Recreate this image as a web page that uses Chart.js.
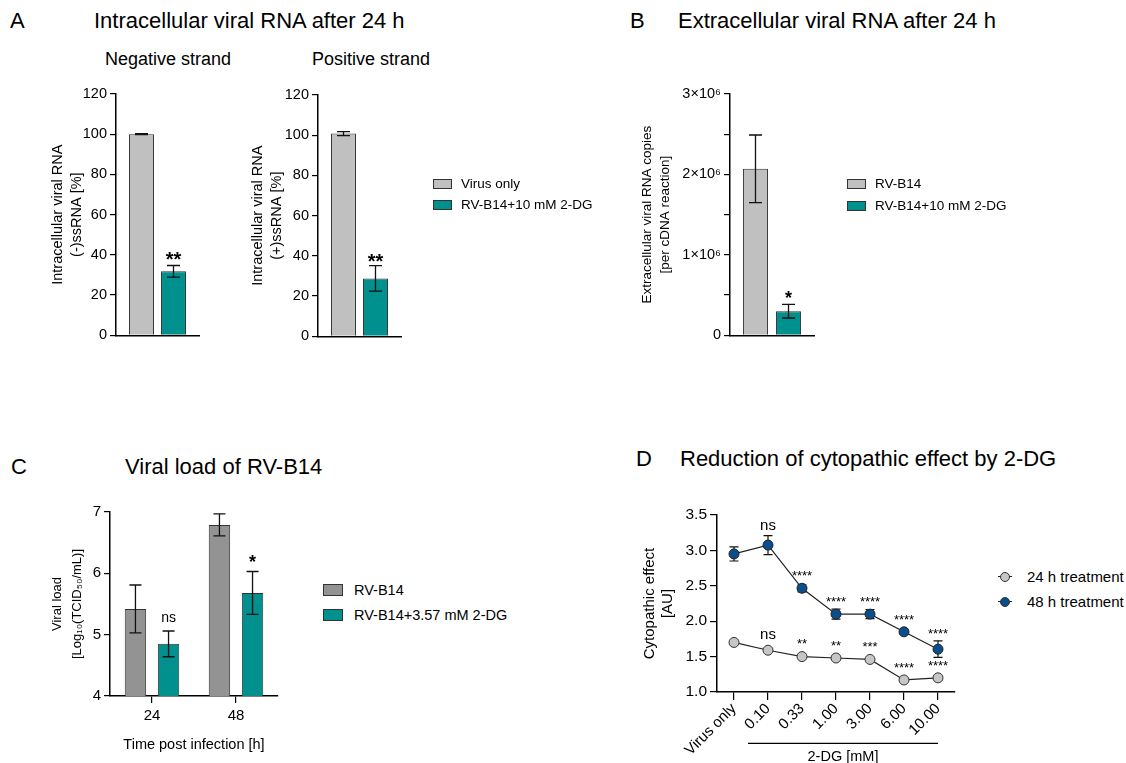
<!DOCTYPE html>
<html>
<head>
<meta charset="utf-8">
<title>2-DG and RV-B14</title>
<script src="https://cdn.jsdelivr.net/npm/chart.js@4.4.1/dist/chart.umd.min.js"></script>
<style>
  body { margin: 0; background: #fff; }
  #page { position: relative; width: 1126px; height: 763px; overflow: hidden;
          font-family: 'Liberation Sans', Arial, sans-serif; color: #000; }
  .t { position: absolute; white-space: nowrap; line-height: 1; }
  canvas { position: absolute; }
  .sw { position: absolute; border: 1px solid #333; box-sizing: border-box; }
</style>
</head>
<body>
<div id="page">
  <div class="t" style="left:10px;top:10px;font-size:22px">A</div>
  <div class="t" style="left:94px;top:10px;font-size:22px">Intracellular viral RNA after 24 h</div>
  <div class="t" style="left:105px;top:50px;font-size:18px">Negative strand</div>
  <div class="t" style="left:312px;top:50px;font-size:18px">Positive strand</div>
  <div class="t" style="left:630px;top:10px;font-size:22px">B</div>
  <div class="t" style="left:678px;top:10px;font-size:22px">Extracellular viral RNA after 24 h</div>
  <div class="t" style="left:11px;top:456px;font-size:22px">C</div>
  <div class="t" style="left:125px;top:456px;font-size:22px">Viral load of RV-B14</div>
  <div class="t" style="left:636px;top:448px;font-size:22px">D</div>
  <div class="t" style="left:680px;top:448px;font-size:22px">Reduction of cytopathic effect by 2-DG</div>

  <canvas id="negStrand" width="180" height="267" style="left:30px;top:80px"></canvas>
  <canvas id="posStrand" width="180" height="267" style="left:232px;top:81px"></canvas>
  <canvas id="extra" width="210" height="267" style="left:620px;top:80px"></canvas>
  <canvas id="load" width="250" height="268" style="left:40px;top:495px"></canvas>
  <canvas id="cpe" width="350" height="268" style="left:620px;top:495px"></canvas>
</div>

<script>
// ---------- data ----------
// A: intracellular RNA, % of virus only
const aLegend = ['Virus only', 'RV-B14+10 mM 2-DG'];
const negValues = [100, 31.8];
const negErrors = [0.25, 2.9];
const negSig = ['', '**'];
const posValues = [100.8, 28.8];
const posErrors = [1.0, 6.3];
const posSig = ['', '**'];
const aTicks = [0, 20, 40, 60, 80, 100, 120];
const aTickLabels = ['0', '20', '40', '60', '80', '100', '120'];

// B: extracellular RNA copies
const bLegend = ['RV-B14', 'RV-B14+10 mM 2-DG'];
const bValues = [2070000, 300000];
const bErrors = [420000, 85000];
const bSig = ['', '*'];
const bTicks = [0, 500000, 1000000, 1500000, 2000000, 2500000, 3000000];
const bTickLabels = ['0', '', '1×10⁶', '', '2×10⁶', '', '3×10⁶'];

// C: viral load
const cLabels = ['24', '48'];
const cLegend = ['RV-B14', 'RV-B14+3.57 mM 2-DG'];
const cVirus = [5.42, 6.79];
const cVirusErr = [0.39, 0.18];
const cDrug = [4.85, 5.68];
const cDrugErr = [0.21, 0.35];
const cSig = ['ns', '*'];
const cTicks = [4, 5, 6, 7];
const cTickLabels = ['4', '5', '6', '7'];

// D: cytopathic effect
const dLabels = ['Virus only', '0.10', '0.33', '1.00', '3.00', '6.00', '10.00'];
const dLegend = ['24 h treatment', '48 h treatment'];
const d24 = [1.70, 1.59, 1.50, 1.48, 1.46, 1.17, 1.20];
const d24Err = [0.02, 0.02, 0.02, 0.02, 0.02, 0.02, 0.02];
const d24Sig = ['', 'ns', '**', '**', '***', '****', '****'];
const d48 = [2.95, 3.075, 2.465, 2.10, 2.10, 1.85, 1.605];
const d48Err = [0.10, 0.135, 0.05, 0.07, 0.065, 0.03, 0.117];
const d48Sig = ['', 'ns', '****', '****', '****', '****', '****'];
const dTicks = [1.0, 1.5, 2.0, 2.5, 3.0, 3.5];
const dTickLabels = ['1.0', '1.5', '2.0', '2.5', '3.0', '3.5'];

// ---------- colours ----------
const lightGray = '#c0c0c0';
const teal = '#00908d';
const midGray = '#939393';
const navy = '#0a4e8e';
const dotGray = '#c6c6c6';

const FONT = "'Liberation Sans', Arial, sans-serif";
Chart.defaults.font.family = FONT;
Chart.defaults.color = '#000';

// ---------- plugins ----------
function drawErrors(chart, o) {
  const ctx = chart.ctx, y = chart.scales.y;
  chart.data.datasets.forEach((ds, di) => {
    if (!ds.errors) return;
    chart.getDatasetMeta(di).data.forEach((el, i) => {
      const v = ds.data[i], e = ds.errors[i];
      const top = y.getPixelForValue(v + e), bot = y.getPixelForValue(v - e);
      ctx.save();
      ctx.strokeStyle = '#111';
      ctx.lineWidth = o.width || 1.2;
      ctx.beginPath();
      ctx.moveTo(el.x, top); ctx.lineTo(el.x, bot);
      ctx.moveTo(el.x - o.cap, top); ctx.lineTo(el.x + o.cap, top);
      ctx.moveTo(el.x - o.cap, bot); ctx.lineTo(el.x + o.cap, bot);
      ctx.stroke();
      ctx.restore();
    });
  });
}

const errorBars = {
  id: 'errorBars',
  beforeDatasetsDraw(chart, args, o) { if (o.behind) drawErrors(chart, o); },
  afterDatasetsDraw(chart, args, o) { if (!o.behind) drawErrors(chart, o); }
};

const sigMarks = {
  id: 'sigMarks',
  afterDatasetsDraw(chart, args, o) {
    const ctx = chart.ctx, y = chart.scales.y;
    chart.data.datasets.forEach((ds, di) => {
      if (!ds.sig) return;
      chart.getDatasetMeta(di).data.forEach((el, i) => {
        const s = ds.sig[i];
        if (!s) return;
        const v = ds.data[i], e = ds.errors ? ds.errors[i] : 0;
        const top = Math.min(y.getPixelForValue(v + e), el.y - (o.radius || 0)) - o.gap;
        const star = s[0] === '*';
        const size = star ? o.starSize : o.nsSize;
        ctx.save();
        ctx.font = (star ? o.starWeight + ' ' : '') + size + 'px ' + FONT;
        ctx.fillStyle = '#000';
        ctx.textAlign = 'center';
        ctx.textBaseline = 'middle';
        ctx.fillText(s, el.x, top + (star ? size * 0.24 : 0));
        ctx.restore();
      });
    });
  }
};

const bracket = {
  id: 'bracket',
  afterDraw(chart, args, o) {
    if (!o.text) return;
    const ctx = chart.ctx, x = chart.scales.x;
    const x1 = x.getPixelForValue(o.from) - o.extend, x2 = x.getPixelForValue(o.to);
    const ly = chart.chartArea.bottom + o.lineOffset;
    ctx.save();
    ctx.strokeStyle = '#000';
    ctx.lineWidth = 1.2;
    ctx.beginPath(); ctx.moveTo(x1, ly); ctx.lineTo(x2, ly); ctx.stroke();
    ctx.font = o.size + 'px ' + FONT;
    ctx.fillStyle = '#000';
    ctx.textAlign = 'center';
    ctx.textBaseline = 'middle';
    ctx.fillText(o.text, (x1 + x2) / 2, ly + o.textOffset);
    ctx.restore();
  }
};

// ---------- shared option builders ----------
function yAxis(o) {
  return {
    min: o.min, max: o.max,
    afterBuildTicks: s => { s.ticks = o.ticks.map(v => ({ value: v })); },
    afterFit: s => { s.width = o.width; },
    ticks: { callback: (v, i) => o.labels[i], font: { size: o.tickSize }, color: '#000', padding: 3, autoSkip: false },
    grid: { drawOnChartArea: false, drawTicks: true, tickLength: o.tickLength, color: '#000', lineWidth: 1.2 },
    border: { display: true, color: '#000', width: 1.5 },
    title: { display: true, text: o.title, color: '#000',
             font: { size: o.titleSize, lineHeight: o.lineHeight }, padding: { top: o.titlePad, bottom: 0 } }
  };
}

function flatX() {
  return {
    afterFit: s => { s.height = 0; },
    ticks: { display: false },
    grid: { display: false },
    border: { display: true, color: '#000', width: 1.5 }
  };
}

function common(padding, plugins) {
  return {
    responsive: false,
    animation: false,
    events: [],
    layout: { padding: padding },
    plugins: Object.assign({ legend: { display: false }, tooltip: { enabled: false } }, plugins)
  };
}

function pairBars(values, errors, sig, legend, colors, cp, bp) {
  return legend.map((name, i) => ({
    label: name,
    data: [values[i]],
    errors: [errors[i]],
    sig: [sig[i]],
    backgroundColor: colors[i],
    borderColor: '#333',
    borderWidth: 1,
    categoryPercentage: cp,
    barPercentage: bp
  }));
}

// ---------- A: negative strand ----------
new Chart(document.getElementById('negStrand'), {
  type: 'bar',
  data: { labels: [''], datasets: pairBars(negValues, negErrors, negSig, aLegend, [lightGray, teal], 0.771, 0.78) },
  options: Object.assign(common({ top: 14, right: 11, bottom: 9, left: 0 }, {
    errorBars: { cap: 6.5, width: 1.3 },
    sigMarks: { gap: 10, starSize: 20, starWeight: 'bold', nsSize: 14 }
  }), {
    scales: {
      x: flatX(),
      y: yAxis({ min: 0, max: 120, ticks: aTicks, labels: aTickLabels, width: 86, tickSize: 14.5, tickLength: 6,
                 title: ['Intracellular viral RNA', '(-)ssRNA [%]'], titleSize: 14.5, lineHeight: 1.31, titlePad: 18.5 })
    }
  }),
  plugins: [errorBars, sigMarks]
});

// ---------- A: positive strand ----------
new Chart(document.getElementById('posStrand'), {
  type: 'bar',
  data: { labels: [''], datasets: pairBars(posValues, posErrors, posSig, aLegend, [lightGray, teal], 0.771, 0.78) },
  options: Object.assign(common({ top: 14, right: 11, bottom: 9, left: 0 }, {
    errorBars: { cap: 6.5, width: 1.3 },
    sigMarks: { gap: 8, starSize: 20, starWeight: 'bold', nsSize: 14 }
  }), {
    scales: {
      x: flatX(),
      y: yAxis({ min: 0, max: 120, ticks: aTicks, labels: aTickLabels, width: 86, tickSize: 14.5, tickLength: 6,
                 title: ['Intracellular viral RNA', '(+)ssRNA [%]'], titleSize: 14.5, lineHeight: 1.31, titlePad: 16.8 })
    }
  }),
  plugins: [errorBars, sigMarks]
});

// ---------- B ----------
new Chart(document.getElementById('extra'), {
  type: 'bar',
  data: { labels: [''], datasets: pairBars(bValues, bErrors, bSig, bLegend, [lightGray, teal], 0.786, 0.76) },
  options: Object.assign(common({ top: 14, right: 16, bottom: 9, left: 0 }, {
    errorBars: { cap: 6.5, width: 1.3 },
    sigMarks: { gap: 10, starSize: 18, starWeight: 'bold', nsSize: 14 }
  }), {
    scales: {
      x: flatX(),
      y: yAxis({ min: 0, max: 3000000, ticks: bTicks, labels: bTickLabels, width: 110, tickSize: 14.5, tickLength: 6,
                 title: ['Extracellular viral RNA copies', '[per cDNA reaction]'], titleSize: 13.5, lineHeight: 1.3, titlePad: 18.75 })
    }
  }),
  plugins: [errorBars, sigMarks]
});

// ---------- C ----------
new Chart(document.getElementById('load'), {
  type: 'bar',
  data: {
    labels: cLabels,
    datasets: [
      { label: cLegend[0], data: cVirus, errors: cVirusErr, backgroundColor: midGray, borderColor: '#333', borderWidth: 1,
        categoryPercentage: 0.788, barPercentage: 0.647 },
      { label: cLegend[1], data: cDrug, errors: cDrugErr, sig: cSig, backgroundColor: teal, borderColor: '#333', borderWidth: 1,
        categoryPercentage: 0.788, barPercentage: 0.647 }
    ]
  },
  options: Object.assign(common({ top: 17, right: 12, bottom: 0, left: 0 }, {
    errorBars: { cap: 6, width: 1.3 },
    sigMarks: { gap: 13, starSize: 18, starWeight: 'bold', nsSize: 14 }
  }), {
    scales: {
      x: {
        afterFit: s => { s.height = 67; },
        ticks: { font: { size: 15 }, color: '#000', padding: 4 },
        grid: { offset: false, drawOnChartArea: false, tickLength: 7, color: '#000', lineWidth: 1.2 },
        border: { display: true, color: '#000', width: 1.5 },
        title: { display: true, text: 'Time post infection [h]', color: '#000', font: { size: 14.5 }, padding: { top: 0, bottom: 9.3 } }
      },
      y: yAxis({ min: 4, max: 7, ticks: cTicks, labels: cTickLabels, width: 70, tickSize: 15, tickLength: 6,
                 title: ['Viral load', '[Log₁₀(TCID₅₀/mL)]'], titleSize: 13, lineHeight: 1.54, titlePad: 7 })
    }
  }),
  plugins: [errorBars, sigMarks]
});

// ---------- D ----------
new Chart(document.getElementById('cpe'), {
  type: 'line',
  data: {
    labels: dLabels,
    datasets: [
      { label: dLegend[0], data: d24, errors: d24Err, sig: d24Sig, borderColor: '#222', borderWidth: 1.2,
        pointBackgroundColor: dotGray, pointBorderColor: '#333', pointBorderWidth: 1, pointRadius: 5, tension: 0 },
      { label: dLegend[1], data: d48, errors: d48Err, sig: d48Sig, borderColor: '#222', borderWidth: 1.2,
        pointBackgroundColor: navy, pointBorderColor: '#222', pointBorderWidth: 1, pointRadius: 5, tension: 0 }
    ]
  },
  options: Object.assign(common({ top: 20, right: 15, bottom: 0, left: 0 }, {
    errorBars: { cap: 4.5, width: 1.2, behind: true },
    sigMarks: { gap: 10, radius: 5, starSize: 13, starWeight: 'normal', nsSize: 15 },
    bracket: { text: '2-DG [mM]', from: 1, to: 6, extend: 20, lineOffset: 51.3, textOffset: 13.4, size: 14.5 }
  }), {
    scales: {
      x: {
        offset: true,
        afterFit: s => { s.height = 71; },
        ticks: { font: { size: 15 }, color: '#000', minRotation: 45, maxRotation: 45, autoSkip: false, padding: 0 },
        grid: { offset: false, drawOnChartArea: false, tickLength: 8, color: '#000', lineWidth: 1.2 },
        border: { display: true, color: '#000', width: 1.5 }
      },
      y: yAxis({ min: 1, max: 3.5, ticks: dTicks, labels: dTickLabels, width: 97, tickSize: 15.5, tickLength: 7,
                 title: ['Cytopathic effect', '[AU]'], titleSize: 15, lineHeight: 1.23, titlePad: 20.6 })
    }
  }),
  plugins: [errorBars, sigMarks, bracket]
});

// ---------- HTML legends ----------
const page = document.getElementById('page');
function addText(text, left, centerY, size) {
  const d = document.createElement('div');
  d.className = 't';
  d.textContent = text;
  d.style.left = left + 'px';
  d.style.top = (centerY - size * 0.49) + 'px';
  d.style.fontSize = size + 'px';
  page.appendChild(d);
}
function boxLegend(labels, colors, o) {
  labels.forEach((name, i) => {
    const cy = o.y + i * o.step;
    const sw = document.createElement('div');
    sw.className = 'sw';
    sw.style.left = o.x + 'px';
    sw.style.top = (cy - o.h / 2) + 'px';
    sw.style.width = o.w + 'px';
    sw.style.height = o.h + 'px';
    sw.style.background = colors[i];
    page.appendChild(sw);
    addText(name, o.textX, cy, o.size);
  });
}
boxLegend(aLegend, [lightGray, teal], { x: 433, y: 184, step: 21, w: 19, h: 10, textX: 461, size: 13.5 });
boxLegend(bLegend, [lightGray, teal], { x: 847, y: 184, step: 22, w: 19, h: 10, textX: 875, size: 13.5 });
boxLegend(cLegend, [midGray, teal], { x: 323, y: 590, step: 25, w: 20, h: 12, textX: 354, size: 14.5 });

dLegend.forEach((name, i) => {
  const cy = 576.7 + i * 25;
  const line = document.createElement('div');
  line.style.cssText = 'position:absolute;left:998px;width:14px;height:1.2px;background:#222;top:' + (cy - 0.6) + 'px';
  page.appendChild(line);
  const dot = document.createElement('div');
  dot.style.cssText = 'position:absolute;width:10px;height:10px;border-radius:50%;box-sizing:border-box;border:1px solid #333;left:1000px;top:' +
    (cy - 5) + 'px;background:' + [dotGray, navy][i];
  page.appendChild(dot);
  addText(name, 1027, cy, 15);
});
</script>
</body>
</html>
